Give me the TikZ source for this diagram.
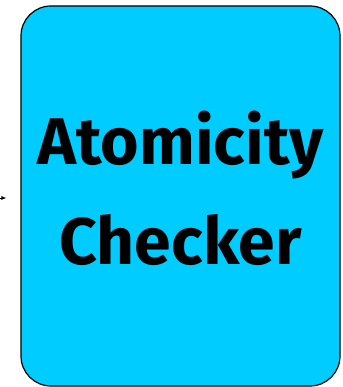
\documentclass[tikz,border=0pt]{standalone}
\usepackage{fontspec}
\usepackage{xcolor}
\newfontfamily\checkerfont{Fira Sans}[UprightFont=* Bold]
\definecolor{checkercyan}{RGB}{0, 204, 255}
\usetikzlibrary{arrows.meta,positioning}

\tikzset{
    checkerbox/.style={draw=black, line width=1.2pt, fill=checkercyan,
        rounded corners=30pt, minimum width=319pt, minimum height=380pt},
    checkertext/.style={align=center, font=\checkerfont\fontsize{66}{100}\selectfont},
    feedarrow/.style={-{Latex[length=5pt,width=4pt]}, line width=0.8pt}
}

\begin{document}
\begin{tikzpicture}[x=1pt, y=-1pt]
    \useasboundingbox (0,0) rectangle (342,387);

    % Checker block
    \node[checkerbox] (checker) at (180.5,196) {};
    \node[checkertext] (checkerlabel) at (180.5,188) {Atomicity\\Checker};

    % Incoming arrow, its tail outside the picture
    \coordinate (feed) at (-30,198);
    \draw[feedarrow] (feed) -- ([xshift=-14pt]checker.west |- feed);
\end{tikzpicture}
\end{document}
